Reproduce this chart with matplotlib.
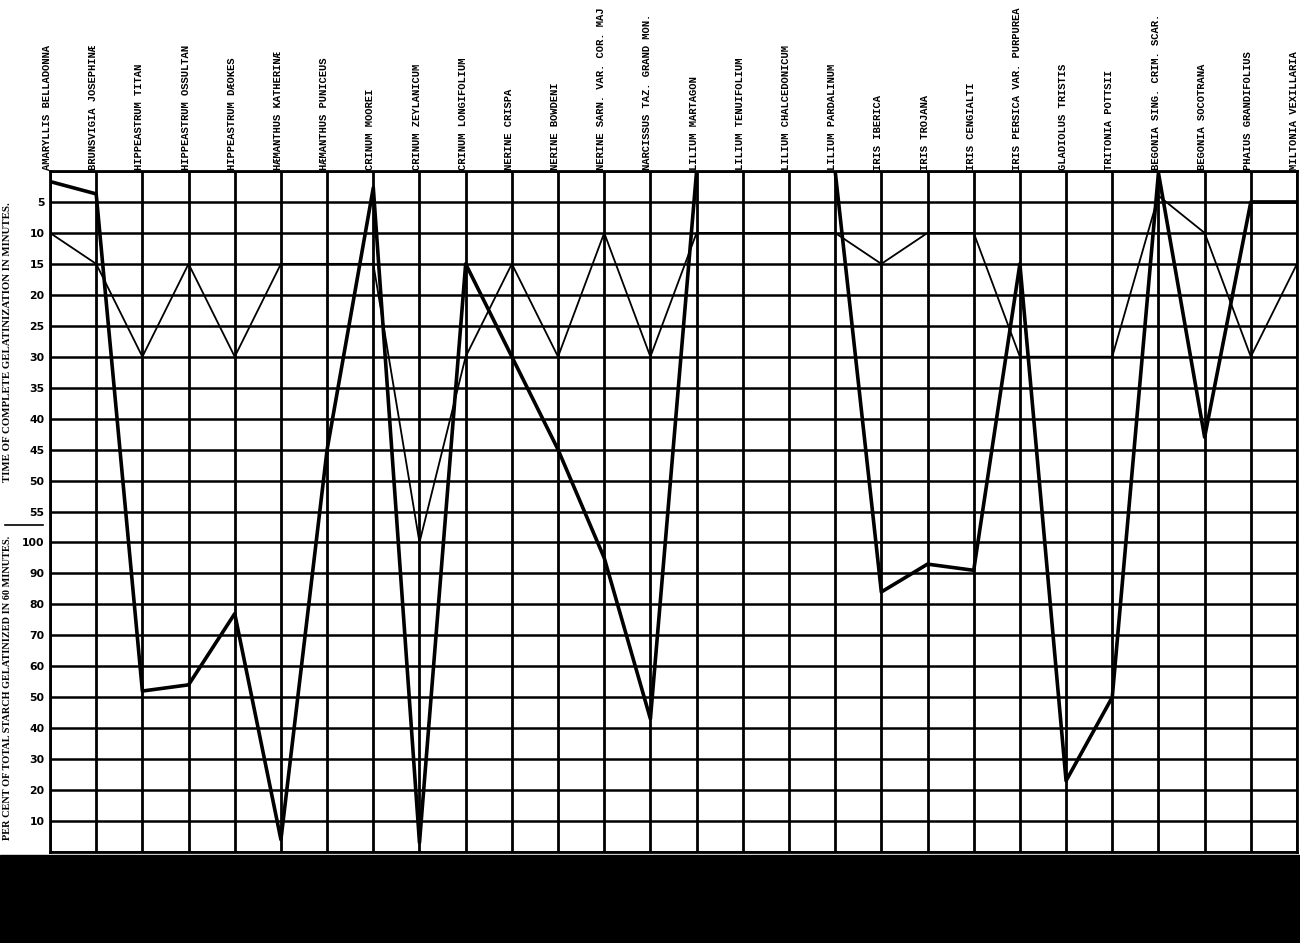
import matplotlib
matplotlib.use("Agg")
import matplotlib.pyplot as plt
from matplotlib.patches import Rectangle
import matplotlib.transforms as mtransforms

# species, one per vertical line of the chart
species = [
    "AMARYLLIS BELLADONNA", "BRUNSVIGIA JOSEPHINÆ", "HIPPEASTRUM TITAN",
    "HIPPEASTRUM OSSULTAN", "HIPPEASTRUM DÆOKES", "HÆMANTHUS KATHERINÆ",
    "HÆMANTHUS PUNICEUS", "CRINUM MOOREI", "CRINUM ZEYLANICUM",
    "CRINUM LONGIFOLIUM", "NERINE CRISPA", "NERINE BOWDENI",
    "NERINE SARN. VAR. COR. MAJ", "NARCISSUS TAZ. GRAND MON.", "LILIUM MARTAGON",
    "LILIUM TENUIFOLIUM", "LILIUM CHALCEDONICUM", "LILIUM PARDALINUM",
    "IRIS IBERICA", "IRIS TROJANA", "IRIS CENGIALTI",
    "IRIS PERSICA VAR. PURPUREA", "GLADIOLUS TRISTIS", "TRITONIA POTTSII",
    "BEGONIA SING. CRIM. SCAR.", "BEGONIA SOCOTRANA", "PHAIUS GRANDIFOLIUS",
    "MILTONIA VEXILLARIA",
]

# thin line: minutes to complete gelatinization, or per cent in 60 min (None = not used)
thin_minutes = [10, 15, 30, 15, 30, 15, 15, 15, None, 30, 15, 30, 10, 30,
                10, 10, 10, 10, 15, 10, 10, 30, 30, 30, 4, 10, 30, 15]
thin_percent = [None, None, None, None, None, None, None, None, 100, None, None, None, None, None,
                None, None, None, None, None, None, None, None, None, None, None, None, None, None]

# thick line
thick_minutes = [1.7, 3.7, None, None, None, None, 45, 2.7, None, 15, 30, 45, None, None,
                 0, 0, 0, 0, None, None, None, 15, None, None, 0.3, 43, 5, 5]
thick_percent = [None, None, 52, 54, 77, 4, None, None, 3, None, None, None, 95, 43,
                 None, None, None, None, 84, 93, 91, None, 23, 50, None, None, None, None]

minute_ticks = [5, 10, 15, 20, 25, 30, 35, 40, 45, 50, 55]
percent_ticks = [100, 90, 80, 70, 60, 50, 40, 30, 20, 10]


def to_row(minutes, percent):
    # the chart stacks both scales: 0-55 min on top, then 100-0 % below
    if minutes is not None:
        return minutes / 5.0
    return 12 + (100 - percent) / 10.0


thin_rows = [to_row(m, p) for m, p in zip(thin_minutes, thin_percent)]
thick_rows = [to_row(m, p) for m, p in zip(thick_minutes, thick_percent)]
cols = list(range(len(species)))

fig = plt.figure(figsize=(13, 9.43), dpi=100)
ax = fig.add_axes([50 / 1300, 1 - 852 / 943, 1247 / 1300, 681 / 943])

ax.set_xlim(0, len(species) - 1)
ax.set_ylim(22, 0)

# grid
for c in cols:
    ax.axvline(c, color="black", lw=2.0, zorder=1)
for r in range(23):
    ax.axhline(r, color="black", lw=1.8, zorder=1)
for s in ax.spines.values():
    s.set_linewidth(2.0)

ax.plot(cols, thin_rows, color="black", lw=1.3, zorder=3)
ax.plot(cols, thick_rows, color="black", lw=2.6, zorder=4)

rows = [to_row(m, None) for m in minute_ticks] + [to_row(None, p) for p in percent_ticks]
labels = [str(m) for m in minute_ticks] + [str(p) for p in percent_ticks]
ax.set_yticks(rows)
ax.set_yticklabels(labels, fontsize=7.8, fontweight="bold", family="DejaVu Sans")
ax.tick_params(axis="y", length=0, pad=4)
ax.set_xticks([])

# species names, rotated, just left of each vertical line
for c, name in zip(cols, species):
    ax.annotate(name, xy=(c, 1), xycoords=("data", "axes fraction"),
                xytext=(1.5, 1), textcoords="offset points",
                rotation=90, ha="right", va="bottom",
                fontsize=7.6, fontweight="bold", family="Liberation Mono")

# axis titles on the left
fig.text(8 / 1300, 1 - 342 / 943, "TIME OF COMPLETE GELATINIZATION IN MINUTES.",
         rotation=90, ha="center", va="center", fontsize=7.8, fontweight="bold",
         family="Liberation Serif")
fig.text(8 / 1300, 1 - 688 / 943, "PER CENT OF TOTAL STARCH GELATINIZED IN 60 MINUTES.",
         rotation=90, ha="center", va="center", fontsize=7.4, fontweight="bold",
         family="Liberation Serif")

# short rule between the two scales
trans = mtransforms.blended_transform_factory(fig.transFigure, ax.transData)
ax.plot([5 / 1300, 43 / 1300], [11.45, 11.45], color="black", lw=1.2,
        transform=trans, clip_on=False)

# dark strip along the bottom of the scan
fig.patches.append(Rectangle((0, 0), 1, (943 - 855) / 943, transform=fig.transFigure,
                             color="black", zorder=0))

fig.savefig("out.png", dpi=100, facecolor="white")
